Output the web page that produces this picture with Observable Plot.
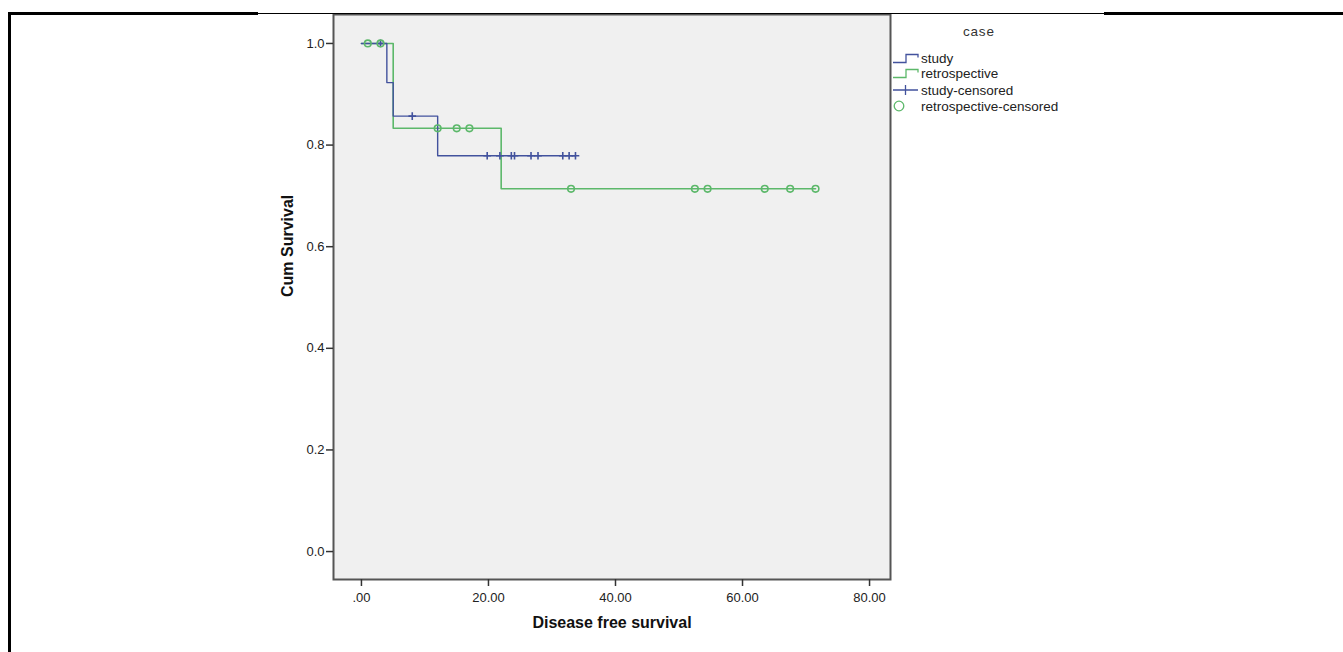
<!DOCTYPE html>
<html><head><meta charset="utf-8">
<script src="https://cdn.jsdelivr.net/npm/d3@7"></script>
<script src="https://cdn.jsdelivr.net/npm/@observablehq/plot@0.6"></script>
<style>
html,body{margin:0;padding:0;background:#fff;}
#wrap{position:relative;width:1343px;height:652px;overflow:hidden;font-family:"Liberation Sans",Arial,sans-serif;}
#wrap svg{position:absolute;left:0;top:0;}
.bar{position:absolute;background:#000;}
#legend{position:absolute;left:893px;top:24px;color:#222;font-size:13.5px;}
#legend .title{position:absolute;left:70px;top:0;font-size:13.5px;letter-spacing:0.8px;color:#333;white-space:nowrap;}
#legend .item{position:absolute;left:0;height:16px;display:flex;align-items:center;white-space:nowrap;}
#legend .item svg{position:static;margin-right:2px;}
</style></head><body>
<div id="wrap"></div>
<script>
// ---- data ----
const groupNames = ["study", "retrospective"];
const groupColors = ["#42529d", "#5cb86a"];

// Kaplan-Meier step points (time, cumulative survival)
const studyTime = [0, 4, 5, 12, 33.7];
const studySurv = [1.0, 0.923, 0.857, 0.779, 0.779];
const retroTime = [0, 5, 22, 71.5];
const retroSurv = [1.0, 0.833, 0.714, 0.714];

// censored observations
const studyCensTime = [3, 8, 19.8, 21.8, 23.6, 24.1, 26.7, 27.8, 31.7, 32.7, 33.7];
const studyCensSurv = [1.0, 0.857, 0.779, 0.779, 0.779, 0.779, 0.779, 0.779, 0.779, 0.779, 0.779];
const retroCensTime = [1, 3, 12, 15, 17, 33, 52.5, 54.5, 63.5, 67.5, 71.5];
const retroCensSurv = [1.0, 1.0, 0.833, 0.833, 0.833, 0.714, 0.714, 0.714, 0.714, 0.714, 0.714];

const xTicks = [0, 20, 40, 60, 80];
const xTickLabels = [".00", "20.00", "40.00", "60.00", "80.00"];
const yTicks = [0, 0.2, 0.4, 0.6, 0.8, 1.0];
const yTickLabels = ["0.0", "0.2", "0.4", "0.6", "0.8", "1.0"];
const xTitle = "Disease free survival";
const yTitle = "Cum Survival";
const legendTitle = "case";
const legendLabels = ["study", "retrospective", "study-censored", "retrospective-censored"];

// ---- tables built from the arrays ----
const studyLine = studyTime.map((t, i) => ({t, s: studySurv[i], g: groupNames[0]}));
const retroLine = retroTime.map((t, i) => ({t, s: retroSurv[i], g: groupNames[1]}));
const studyCens = studyCensTime.map((t, i) => ({t, s: studyCensSurv[i]}));
const retroCens = retroCensTime.map((t, i) => ({t, s: retroCensSurv[i]}));

const chart = Plot.plot({
  width: 1343,
  height: 652,
  marginLeft: 333,
  marginRight: 453,
  marginTop: 14,
  marginBottom: 73,
  style: {background: "transparent", fontFamily: "'Liberation Sans', Arial, sans-serif", color: "#222"},
  x: {domain: [-4.4, 83.3]},
  y: {domain: [-0.055, 1.057]},
  marks: [
    Plot.frame({fill: "#f0f0f0"}),
    Plot.line(retroLine, {x: "t", y: "s", curve: "step-after", stroke: groupColors[1], strokeWidth: 1.6}),
    Plot.line(studyLine, {x: "t", y: "s", curve: "step-after", stroke: groupColors[0], strokeWidth: 1.4}),
    Plot.dot(studyCens, {x: "t", y: "s", symbol: "plus", r: 2.6, stroke: groupColors[0], strokeWidth: 1.6}),
    Plot.dot(retroCens, {x: "t", y: "s", symbol: "circle", r: 3.3, stroke: groupColors[1], strokeWidth: 1.6, fill: "none"}),
    Plot.frame({stroke: "#555", strokeWidth: 2}),
    Plot.axisX({ticks: xTicks, tickFormat: (d) => xTickLabels[xTicks.indexOf(d)], tickSize: 7, tickPadding: 6, fontSize: 13, label: null, stroke: "#333", strokeWidth: 1.5, fill: "#222"}),
    Plot.axisY({ticks: yTicks, tickFormat: (d) => yTickLabels[yTicks.findIndex(v => Math.abs(v - d) < 1e-9)], tickSize: 7, tickPadding: 2, fontSize: 13, label: null, stroke: "#333", strokeWidth: 1.5, fill: "#222"}),
    Plot.text([xTitle], {text: d => d, frameAnchor: "bottom", dy: 48, fontSize: 16, fontWeight: "bold", fill: "#111"}),
    Plot.text([yTitle], {text: d => d, frameAnchor: "left", dx: -46, rotate: -90, fontSize: 16, fontWeight: "bold", fill: "#111"})
  ]
});

const wrap = document.getElementById("wrap");
wrap.appendChild(chart);

// page border pieces of the original screenshot
const bars = [
  {left: 8, top: 12, width: 250, height: 3},
  {left: 258, top: 13, width: 846, height: 1},
  {left: 1104, top: 12, width: 239, height: 3},
  {left: 8, top: 12, width: 3, height: 640}
];
for (const b of bars) {
  const d = document.createElement("div");
  d.className = "bar";
  Object.assign(d.style, {left: b.left + "px", top: b.top + "px", width: b.width + "px", height: b.height + "px"});
  wrap.appendChild(d);
}

// legend
const legend = document.createElement("div");
legend.id = "legend";
const title = document.createElement("div");
title.className = "title";
title.textContent = legendTitle;
legend.appendChild(title);
const icons = [
  `<svg width="26" height="12"><path d="M0,10.5H13V2.5H25V5.5" fill="none" stroke="${groupColors[0]}" stroke-width="1.3"/></svg>`,
  `<svg width="26" height="12"><path d="M0,10.5H13V2.5H25V5.5" fill="none" stroke="${groupColors[1]}" stroke-width="1.3"/></svg>`,
  `<svg width="26" height="12"><path d="M0,6H25M12.5,1V11" fill="none" stroke="${groupColors[0]}" stroke-width="1.3"/></svg>`,
  `<svg width="26" height="12"><circle cx="6" cy="6" r="4.8" fill="none" stroke="${groupColors[1]}" stroke-width="1.3"/></svg>`
];
const tops = [26, 41, 58, 74];
legendLabels.forEach((lab, i) => {
  const it = document.createElement("div");
  it.className = "item";
  it.style.top = tops[i] + "px";
  it.innerHTML = icons[i] + `<span>${lab}</span>`;
  legend.appendChild(it);
});
wrap.appendChild(legend);
</script>
</body></html>
